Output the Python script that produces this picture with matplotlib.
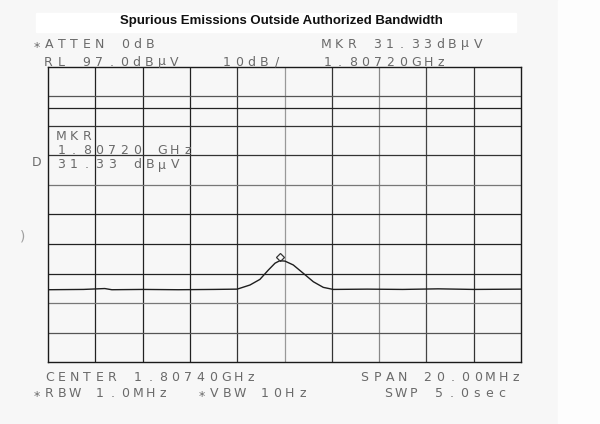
import numpy as np
import matplotlib.pyplot as plt
from matplotlib.transforms import ScaledTranslation

# analyzer settings (as printed on the plot)
center_ghz = 1.8074
span_mhz = 20.0
ref_level = 97.0
db_per_div = 10.0
atten_db = 0
rbw_mhz = 1.0
vbw_hz = 10
sweep_s = 5.0
display_line = 83.1

# marker
mkr_freq = 1.8072
mkr_level = 31.33

# trace (GHz, dBuV)
trace_freq = [1.7974, 1.7989, 1.7998, 1.8001, 1.8014, 1.8029, 1.8044, 1.8054,
              1.80594, 1.80636, 1.80672, 1.8070, 1.8072, 1.80742, 1.80777,
              1.80819, 1.80862, 1.80904, 1.80946, 1.8109, 1.8124, 1.8139,
              1.8154, 1.8174]
trace_level = [21.5, 21.6, 21.9, 21.5, 21.6, 21.5, 21.6, 21.7,
               23.1, 25.0, 28.2, 30.5, 31.33, 31.2, 29.9,
               27.1, 24.2, 22.3, 21.6, 21.7, 21.6, 21.8,
               21.6, 21.7]

W, H = 600, 424
fig = plt.figure(figsize=(W / 100, H / 100), dpi=100)
fig.patch.set_facecolor('#f7f7f7')


def px(x, y):
    return x / W, 1 - y / H


# lighter paper strip on the right, white box behind the title
fig.patches.append(plt.Rectangle(px(558, 424), 42 / W, 1, transform=fig.transFigure,
                                 color='#fdfdfd', zorder=0))
fig.patches.append(plt.Rectangle(px(36, 32), 480 / W, 19 / H, transform=fig.transFigure,
                                 color='#ffffff', zorder=0))

fig.text(*px(281, 21), 'Spurious Emissions Outside Authorized Bandwidth',
         ha='center', va='center', fontsize=9.5, fontweight='bold',
         family='Liberation Sans', color='#111111')

# graticule
left, right, top, bottom = 48, 521, 67, 362
ax = fig.add_axes([left / W, 1 - bottom / H, (right - left) / W, (bottom - top) / H])
ax.set_facecolor('#f7f7f7')
f0 = center_ghz - span_mhz / 2000
f1 = center_ghz + span_mhz / 2000
y0 = ref_level - 10 * db_per_div
ax.set_xlim(f0, f1)
ax.set_ylim(y0, ref_level)
ax.set_xticks([])
ax.set_yticks([])
for s in ax.spines.values():
    s.set_color('#1a1a1a')
    s.set_linewidth(1.0)

vcolors = ['#222', '#222', '#222', '#333', '#999', '#333', '#888', '#444', '#333']
for k in range(1, 10):
    ax.axvline(f0 + k * span_mhz / 10000, color=vcolors[k - 1], lw=0.9, zorder=1)
hcolors = ['#555', '#333', '#333', '#777', '#222', '#222', '#222', '#777', '#555']
for k in range(1, 10):
    ax.axhline(ref_level - k * db_per_div, color=hcolors[k - 1], lw=0.9, zorder=1)
ax.axhline(display_line, color='#222', lw=0.9, zorder=1)

ax.plot(trace_freq, trace_level, color='#1e1e1e', lw=1.0, zorder=3)
off = ScaledTranslation(0, 3 / 72, fig.dpi_scale_trans)
ax.plot([mkr_freq], [mkr_level], marker='D', ms=4, mfc='none', mec='#333',
        mew=0.9, transform=ax.transData + off, zorder=4)


# plotter style text, fixed pitch
def plotter_text(x, yb, s, pitch=12.6):
    for i, ch in enumerate(s):
        dy = 3 if ch == '*' else 0
        fig.text(*px(x + 4.5 + i * pitch, yb + dy), ch, ha='center', va='baseline',
                 fontsize=9, color='#6a6a6a', family='DejaVu Sans')


plotter_text(32, 47.5, f'*ATTEN {atten_db}dB')
plotter_text(322, 47.5, f'MKR {mkr_level:.2f}dBµV')
plotter_text(44, 65.5, f'RL {ref_level:.1f}dBµV')
plotter_text(222, 65.5, f'{db_per_div:.0f}dB/')
plotter_text(323, 65.5, f'{mkr_freq:.5f}GHz')

plotter_text(57, 140.5, 'MKR')
plotter_text(57, 154, f'{mkr_freq:.5f} GHz')
plotter_text(57, 168.5, f'{mkr_level:.2f} dBµV')
plotter_text(32, 166, 'D')

plotter_text(45, 381, f'CENTER {center_ghz:.5f}GHz')
plotter_text(360, 381, f'SPAN {span_mhz:.2f}MHz')
plotter_text(32.5, 397, f'*RBW {rbw_mhz:.1f}MHz')
plotter_text(197, 397, f'*VBW {vbw_hz}Hz')
plotter_text(384, 397, f'SWP {sweep_s:.1f}sec')

fig.text(*px(23, 237), ')', ha='center', va='center', fontsize=10, color='#a0a0a0')

fig.savefig('out.png', dpi=100, facecolor=fig.get_facecolor())
